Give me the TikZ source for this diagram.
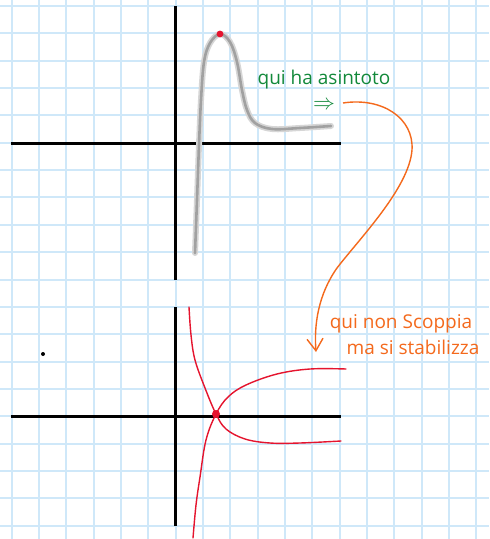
\documentclass[tikz,border=0pt]{standalone}
\usepackage{fontspec}
\newfontfamily\handfont{Open Sans}
\usepackage{tikz}
\usetikzlibrary{arrows.meta,positioning,calc}
\definecolor{gridblue}{HTML}{CFE8F9}
\definecolor{inkgreen}{HTML}{12893A}
\definecolor{inkorange}{HTML}{F4691C}
\definecolor{inkred}{HTML}{E5142E}
\definecolor{pencil}{HTML}{8A8A8A}
\tikzset{
  gridline/.style={draw=gridblue, line width=1pt},
  axisline/.style={draw=black, line width=1.6pt},
  pencilblur/.style={draw=pencil!35, line width=3pt, line cap=round, line join=round},
  pencilcore/.style={draw=pencil!80, line width=1.3pt, line cap=round, line join=round},
  redcurve/.style={draw=inkred, line width=0.7pt, line cap=round},
  reddot/.style={circle, fill=inkred, inner sep=0pt, minimum size=#1},
  reddot/.default=3.4pt,
  notetext/.style={font=\handfont\fontsize{9.5}{11}\selectfont, text=#1, inner sep=0pt},
  notetext/.default=inkgreen,
  notearrow/.style={draw=inkorange, line width=0.7pt,
    -{Straight Barb[length=6pt, width=8pt]}},
}
\begin{document}
\begin{tikzpicture}[x=0.5pt, y=-0.5pt]
\useasboundingbox (0,0) rectangle (489,539);
\fill[white] (0,0) rectangle (489,539);

% squared paper
\foreach \k in {0,...,17}
  \draw[gridline] ({11.7+27.33*\k},0) -- ({11.7+27.33*\k},539);
\foreach \k in {0,...,19}
  \draw[gridline] (0,{6+27.35*\k}) -- (489,{6+27.35*\k});

% upper axes
\draw[axisline] (11,143.3) -- (341,143.3);
\draw[axisline] (175.7,6) -- (175.7,280);

% pencil sketch of the function
\foreach \s in {pencilblur, pencilcore}
  \draw[\s] plot[smooth, tension=0.6] coordinates {(195,253) (197,200) (199,145)
    (201,100) (204,62) (210,43) (220,34) (230,42) (237,62) (242,90)
    (247,110) (255,123) (272,129) (300,128) (331,126)};
\node[reddot] (peak) at (220,34) {};

% note on the asymptote
\node[notetext] (asym) at (324,80) {qui ha asintoto};
\node[notetext, font=\handfont\fontsize{11}{11}\selectfont] (implies) at (324,105) {$\Rightarrow$};
\coordinate (astart) at (343,103);
\coordinate (aend) at (316,352);

% lower axes
\draw[axisline] (11,416.7) -- (341,416.7);
\draw[axisline] (175.7,307) -- (175.7,526);

% the two red branches
\draw[redcurve] plot[smooth, tension=0.6] coordinates {(189,307) (191,335) (195,360)
  (205,388) (216,414) (226,429) (245,439) (270,443) (300,443) (341,441)};
\draw[redcurve] plot[smooth, tension=0.6] coordinates {(193,538) (196,505) (200,477)
  (206,440) (216,414) (228,397) (246,385) (277,374) (310,369) (346,369)};
\node[reddot=4pt] (cross) at (216,414) {};
\node[circle, fill=black, inner sep=0pt, minimum size=2pt] (speck) at (43,354) {};

% orange note
\node[notetext=inkorange] (nonscoppia) at (401,324) {qui non Scoppia};
\node[notetext=inkorange] (stabil) at (413,347) {ma si stabilizza};

\draw[notearrow] (astart) .. controls (382,97) and (414,118) .. (412,150)
  .. controls (409,188) and (360,238) .. (337,268)
  .. controls (318,295) and (314,325) .. (aend);

\end{tikzpicture}
\end{document}
